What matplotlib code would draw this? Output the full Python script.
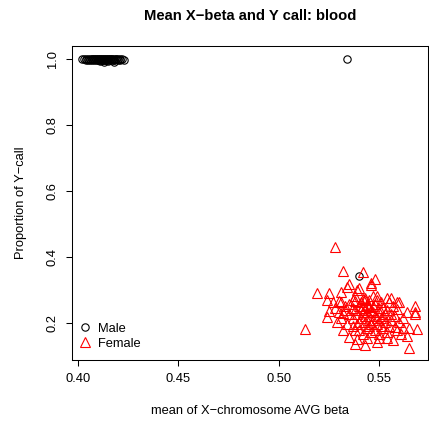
import matplotlib
matplotlib.use("Agg")
import matplotlib.pyplot as plt

plt.rcParams['font.family'] = ['Liberation Sans', 'DejaVu Sans']

# Male samples: mean X-chromosome beta and proportion of Y calls
male_x = [0.402, 0.403, 0.404, 0.404, 0.405, 0.405, 0.406, 0.406, 0.407, 0.407,
          0.407, 0.408, 0.408, 0.408, 0.409, 0.409, 0.409, 0.410, 0.410, 0.410,
          0.410, 0.411, 0.411, 0.411, 0.411, 0.412, 0.412, 0.412, 0.412, 0.413,
          0.413, 0.413, 0.413, 0.414, 0.414, 0.414, 0.414, 0.415, 0.415, 0.415,
          0.415, 0.416, 0.416, 0.416, 0.417, 0.417, 0.417, 0.418, 0.418, 0.418,
          0.419, 0.419, 0.420, 0.420, 0.421, 0.421, 0.422, 0.423, 0.413, 0.418,
          0.534, 0.540]
male_y = [0.999, 1.000, 0.998, 1.000, 0.999, 0.997, 1.000, 0.998, 0.999, 1.000,
          0.996, 0.999, 1.000, 0.997, 0.998, 1.000, 0.999, 0.996, 1.000, 0.998,
          0.999, 1.000, 0.997, 0.999, 0.995, 1.000, 0.998, 0.999, 0.996, 1.000,
          0.999, 0.997, 0.998, 1.000, 0.999, 0.996, 0.998, 1.000, 0.997, 0.999,
          0.995, 1.000, 0.998, 0.999, 1.000, 0.997, 0.999, 1.000, 0.998, 0.996,
          0.999, 1.000, 0.998, 0.999, 1.000, 0.997, 0.999, 0.998, 0.990, 0.990,
          0.999, 0.342]

# Female samples
female_x = [0.528, 0.532, 0.542, 0.548, 0.546, 0.535, 0.534, 0.540, 0.539, 0.519,
            0.525, 0.531, 0.549, 0.524, 0.527, 0.530, 0.531, 0.538, 0.542, 0.543,
            0.554, 0.556, 0.559, 0.560, 0.568, 0.568, 0.568, 0.525, 0.524, 0.513,
            0.532, 0.546, 0.552, 0.559, 0.545, 0.529, 0.534, 0.562, 0.565, 0.569,
            0.558, 0.535, 0.539, 0.544, 0.550, 0.554, 0.557, 0.564, 0.538, 0.543,
            0.549, 0.565,
            0.537, 0.538, 0.540, 0.542, 0.544, 0.546, 0.548, 0.550, 0.552, 0.554,
            0.556, 0.541, 0.543, 0.545, 0.547, 0.549, 0.551, 0.553, 0.555, 0.539,
            0.537, 0.535, 0.533, 0.531, 0.540, 0.542, 0.544, 0.546, 0.548, 0.550,
            0.552, 0.554, 0.556, 0.558, 0.560, 0.562, 0.564, 0.557, 0.545, 0.547,
            0.543, 0.549, 0.551, 0.538, 0.537, 0.535, 0.533, 0.541, 0.546, 0.548,
            0.544, 0.542, 0.550, 0.539, 0.553, 0.555, 0.559, 0.561, 0.532, 0.530,
            0.528, 0.543, 0.545, 0.547, 0.541, 0.549, 0.545, 0.543, 0.540, 0.551,
            0.547, 0.538, 0.537]
female_y = [0.431, 0.359, 0.356, 0.334, 0.322, 0.319, 0.310, 0.307, 0.301, 0.292,
            0.292, 0.295, 0.283, 0.271, 0.265, 0.268, 0.265, 0.268, 0.274, 0.271,
            0.277, 0.277, 0.265, 0.265, 0.253, 0.234, 0.228, 0.238, 0.219, 0.183,
            0.231, 0.316, 0.247, 0.244, 0.250, 0.204, 0.198, 0.186, 0.186, 0.183,
            0.189, 0.159, 0.153, 0.156, 0.156, 0.156, 0.150, 0.162, 0.138, 0.135,
            0.144, 0.126,
            0.247, 0.241, 0.253, 0.234, 0.256, 0.241, 0.259, 0.234, 0.222, 0.241,
            0.228, 0.216, 0.204, 0.222, 0.210, 0.198, 0.216, 0.204, 0.192, 0.198,
            0.216, 0.228, 0.241, 0.216, 0.180, 0.168, 0.186, 0.174, 0.180, 0.168,
            0.186, 0.174, 0.210, 0.222, 0.204, 0.216, 0.234, 0.253, 0.271, 0.283,
            0.277, 0.271, 0.265, 0.283, 0.271, 0.259, 0.253, 0.265, 0.198, 0.222,
            0.234, 0.253, 0.247, 0.228, 0.228, 0.265, 0.180, 0.168, 0.180, 0.234,
            0.247, 0.222, 0.210, 0.234, 0.241, 0.216, 0.192, 0.247, 0.204, 0.192,
            0.253, 0.180, 0.192]

x_ticks = [0.40, 0.45, 0.50, 0.55]
x_tick_labels = ["0.40", "0.45", "0.50", "0.55"]
y_ticks = [0.2, 0.4, 0.6, 0.8, 1.0]
y_tick_labels = ["0.2", "0.4", "0.6", "0.8", "1.0"]

fig = plt.figure(figsize=(4.29, 4.21), dpi=100)
ax = fig.add_axes([0.1678, 0.1449, 0.8299, 0.7458])

ax.plot(male_x, male_y, linestyle='none', marker='o', markersize=5.3,
        markerfacecolor='none', markeredgecolor='black', markeredgewidth=0.8,
        label='Male')
ax.plot(female_x, female_y, linestyle='none', marker='^', markersize=6.8,
        markerfacecolor='none', markeredgecolor='red', markeredgewidth=0.8,
        label='Female')

ax.set_xlim(0.397, 0.5743)
ax.set_ylim(0.089, 1.039)

ax.set_xticks(x_ticks)
ax.set_xticklabels(x_tick_labels)
ax.set_yticks(y_ticks)
ax.set_yticklabels(y_tick_labels, rotation=90, va='center')
ax.tick_params(direction='out', length=4.5, width=0.75, labelsize=9.3, pad=5)

for s in ax.spines.values():
    s.set_linewidth(0.75)

ax.set_title("Mean X\u2212beta and Y call: blood", fontsize=10.6,
             fontweight='bold', pad=19)
ax.set_xlabel("mean of X\u2212chromosome AVG beta", fontsize=9.3, labelpad=14)
ax.set_ylabel("Proportion of Y\u2212call", fontsize=9.3, labelpad=14)

ax.legend(loc='upper left', bbox_to_anchor=(0.0, 0.14), frameon=False,
          fontsize=9.3, handlelength=1.0, handletextpad=0.5,
          labelspacing=0.25, borderaxespad=0.2, borderpad=0.3)

fig.savefig("out.png", dpi=100)
